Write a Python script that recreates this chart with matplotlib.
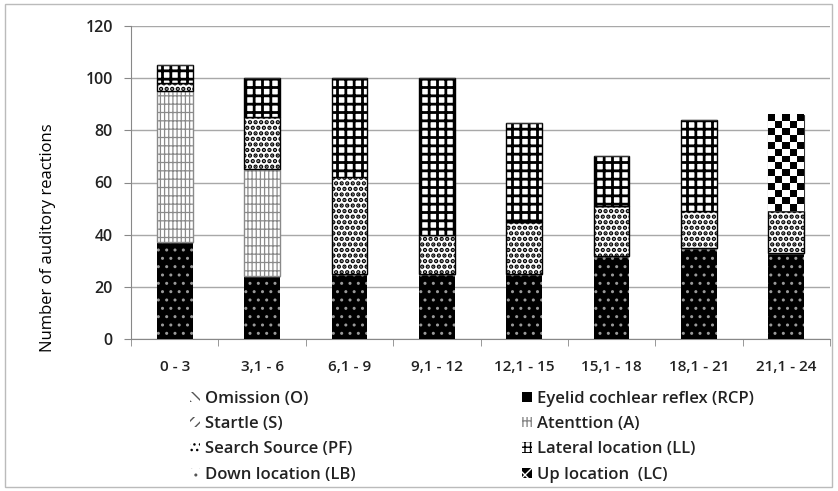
import matplotlib
matplotlib.use("Agg")
import matplotlib.pyplot as plt
import numpy as np
from matplotlib.patches import Patch, Rectangle

categories = ['0 - 3', '3,1 - 6', '6,1 - 9', '9,1 - 12', '12,1 - 15', '15,1 - 18', '18,1 - 21', '21,1 - 24']
rcp = [37, 24, 25, 25, 25, 32, 35, 33]
attention = [58, 41, 0, 0, 0, 0, 0, 0]
search_source = [3, 20, 37, 15, 20, 19, 14, 16]
lateral = [7, 15, 38, 60, 38, 19, 35, 0]
up_location = [0, 0, 0, 0, 0, 0, 0, 37]
omission = [0] * 8
startle = [0] * 8
down_location = [0] * 8

plt.rcParams['font.family'] = ['Open Sans', 'DejaVu Sans']
plt.rcParams['font.weight'] = 'semibold'
plt.rcParams['text.color'] = '#222222'
plt.rcParams['xtick.color'] = '#222222'
plt.rcParams['ytick.color'] = '#222222'

fig = plt.figure(figsize=(8.38, 4.91), dpi=100)
ax = fig.add_axes([131 / 838, 1 - 339 / 491, (830 - 131) / 838, (339 - 26) / 491])

x = np.arange(len(categories))
width = 0.41
bottom = np.zeros(len(categories))

styles = {
    'rcp': dict(facecolor='black', edgecolor='#9a9a9a', hatch='..', linewidth=0),
    'omission': dict(facecolor='white', edgecolor='#555555', hatch='\\\\\\'),
    'startle': dict(facecolor='white', edgecolor='#555555', hatch='///'),
    'attention': dict(facecolor='white', edgecolor='#8a8a8a', hatch='||||--'),
    'search': dict(facecolor='white', edgecolor='black', hatch='...'),
    'down': dict(facecolor='white', edgecolor='#555555', hatch='..'),
    'lateral': dict(facecolor='white', edgecolor='black', hatch='++'),
}
hatch_lw = {'rcp': 1.0, 'omission': 1.0, 'startle': 1.0, 'attention': 0.9,
            'search': 2.2, 'down': 1.0, 'lateral': 2.0}

series = [
    (rcp, 'rcp'), (omission, 'omission'), (startle, 'startle'), (attention, 'attention'),
    (search_source, 'search'), (down_location, 'down'), (lateral, 'lateral'),
]
for vals, key in series:
    vals = np.array(vals, dtype=float)
    plt.rcParams['hatch.linewidth'] = hatch_lw[key]
    bars = ax.bar(x, vals, width, bottom=bottom, zorder=3, **styles[key])
    for b in bars:
        if hasattr(b, 'set_hatch_linewidth'):
            b.set_hatch_linewidth(hatch_lw[key])
    bottom += vals

# Up location: checkerboard
up = np.array(up_location, dtype=float)
bars = ax.bar(x, up, width, bottom=bottom, facecolor='white', edgecolor='#333333', linewidth=0.8, zorder=3)
for b in bars:
    if b.get_height() <= 0:
        continue
    ncols, nrows = 5, 14
    checker = (np.add.outer(np.arange(nrows), np.arange(ncols)) % 2).astype(float)
    ax.imshow(checker, cmap='gray', extent=(b.get_x(), b.get_x() + b.get_width(), b.get_y(), b.get_y() + b.get_height()),
              aspect='auto', interpolation='nearest', zorder=4)
bottom += up

ax.set_xlim(-0.5, len(categories) - 0.5)
ax.set_ylim(0, 120)
ax.set_yticks(range(0, 121, 20))
ax.set_xticks(x)
ax.set_xticklabels(categories)
ax.set_xticks(np.arange(len(categories) + 1) - 0.5, minor=True)
ax.tick_params(axis='x', which='major', length=0, pad=15, labelsize=11)
ax.tick_params(axis='x', which='minor', length=5, color='#888888')
ax.tick_params(axis='y', length=5, color='#888888', labelsize=11.5, pad=8)
ax.yaxis.grid(True, color='#a8a8a8', linewidth=1, zorder=0)
ax.set_axisbelow(True)
for s in ['top', 'right']:
    ax.spines[s].set_visible(False)
for s in ['left', 'bottom']:
    ax.spines[s].set_color('#888888')
ax.set_ylabel('Number of auditory reactions', fontsize=12)
ax.yaxis.set_label_coords(-75 / 699, (339 - 238) / 313)

fig.patches.append(Rectangle((5 / 838, 4 / 491), 827 / 838, 483 / 491, transform=fig.transFigure,
                             fill=False, edgecolor='#bbbbbb', linewidth=1))

plt.rcParams['hatch.linewidth'] = 1.0
left_items = [
    ('Omission (O)', 'omission'),
    ('Startle (S)', 'startle'),
    ('Search Source (PF)', 'search'),
    ('Down location (LB)', 'down'),
]
right_items = [
    ('Eyelid cochlear reflex (RCP)', None),
    ('Atenttion (A)', 'attention'),
    ('Lateral location (LL)', 'lateral_leg'),
    ('Up location  (LC)', 'lc'),
]


def legend_patch(key):
    if key is None:
        return Patch(facecolor='black', edgecolor='black', linewidth=0)
    if key == 'lc':
        return Patch(facecolor='black', edgecolor='white', hatch='xx', linewidth=0)
    if key == 'lateral_leg':
        return Patch(facecolor='white', edgecolor='black', hatch='+++', linewidth=0)
    st = dict(styles[key])
    st['linewidth'] = 0
    return Patch(**st)


for items, xpos in [(left_items, 178 / 838), (right_items, 510 / 838)]:
    handles = [legend_patch(k) for _, k in items]
    labels = [lab for lab, _ in items]
    fig.legend(handles, labels, loc='upper left', bbox_to_anchor=(xpos, 1 - 379 / 491), frameon=False,
               handlelength=0.6, handleheight=0.6, handletextpad=0.3, labelspacing=0.56, fontsize=12,
               borderpad=0.2)

fig.savefig('out.png', dpi=100)
